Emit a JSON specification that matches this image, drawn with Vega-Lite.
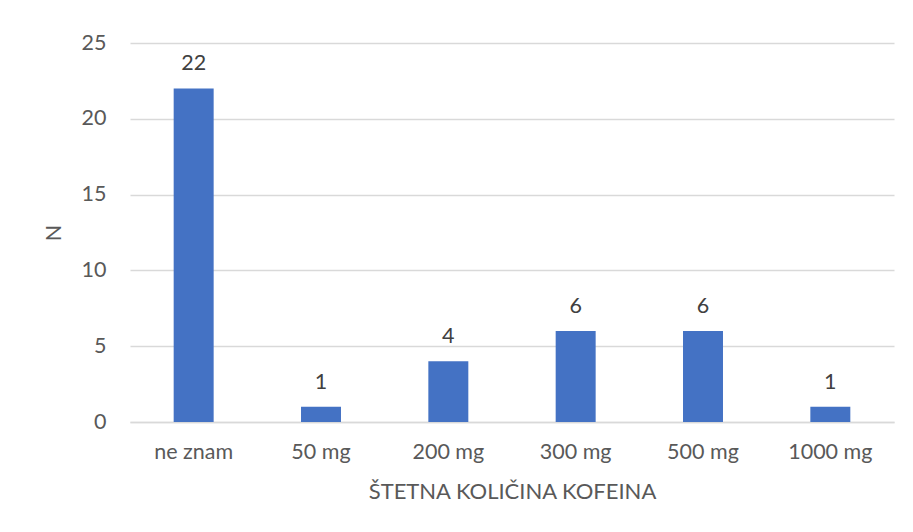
{
  "$schema": "https://vega.github.io/schema/vega-lite/v6.json",
  "autosize": {"type": "none"},
  "padding": {"left": 130, "top": 43, "right": 19, "bottom": 110},
  "width": 764,
  "height": 379,
  "background": "white",
  "config": {
    "view": {"stroke": null},
    "font": "Lato",
    "axis": {"labelFont": "Lato", "titleFont": "Lato"}
  },
  "data": {
    "values": [
      {"kolicina": "ne znam", "N": 22},
      {"kolicina": "50 mg", "N": 1},
      {"kolicina": "200 mg", "N": 4},
      {"kolicina": "300 mg", "N": 6},
      {"kolicina": "500 mg", "N": 6},
      {"kolicina": "1000 mg", "N": 1}
    ]
  },
  "encoding": {
    "x": {
      "field": "kolicina",
      "type": "nominal",
      "sort": null,
      "scale": {"paddingInner": 0.686, "paddingOuter": 0.343},
      "axis": {
        "title": "ŠTETNA KOLIČINA KOFEINA",
        "titleFontSize": 22,
        "titleFontWeight": "normal",
        "titleColor": "#595959",
        "titlePadding": 19,
        "labelAngle": 0,
        "labelFontSize": 21.5,
        "labelColor": "#595959",
        "labelPadding": 19,
        "ticks": false,
        "domainColor": "#D9D9D9",
        "domainWidth": 1.5,
        "grid": false
      }
    },
    "y": {
      "field": "N",
      "type": "quantitative",
      "scale": {"domain": [0, 25], "nice": false},
      "axis": {
        "title": "N",
        "titleFontSize": 21.5,
        "titleFontWeight": "normal",
        "titleColor": "#595959",
        "titlePadding": 16,
        "values": [0, 5, 10, 15, 20, 25],
        "labelFontSize": 21.5,
        "labelColor": "#595959",
        "labelPadding": 24,
        "ticks": false,
        "domain": false,
        "gridColor": "#D9D9D9",
        "gridWidth": 1.5
      }
    }
  },
  "layer": [
    {"mark": {"type": "bar", "color": "#4472C4"}},
    {
      "mark": {"type": "text", "baseline": "bottom", "dy": -13, "fontSize": 21.5, "color": "#404040", "font": "Lato"},
      "encoding": {"text": {"field": "N", "type": "quantitative"}}
    }
  ]
}
